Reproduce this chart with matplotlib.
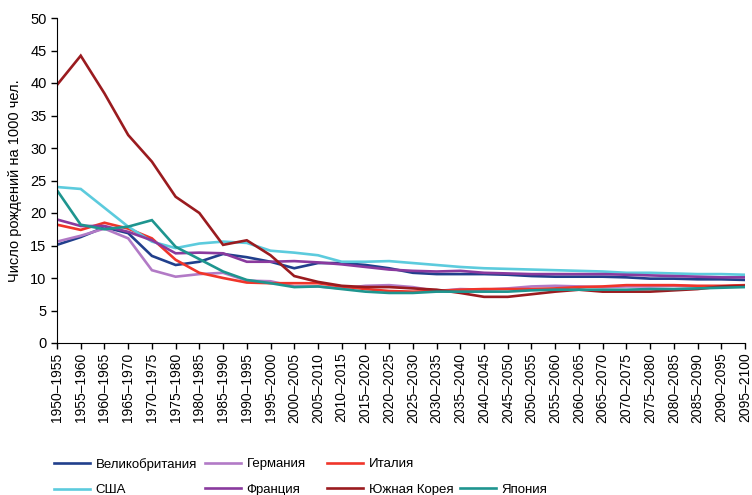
import numpy as np
import matplotlib
matplotlib.use('Agg')
import matplotlib.pyplot as plt
from matplotlib.lines import Line2D

plt.rcParams['font.family'] = ['Liberation Sans', 'DejaVu Sans']

periods = ['%d\u2013%d' % (y, y + 5) for y in range(1950, 2100, 5)]

uk = [15.1, 16.3, 17.8, 16.9, 13.4, 12.0, 12.5, 13.7, 13.2, 12.5,
      11.5, 12.3, 12.3, 12.0, 11.5, 10.8, 10.6, 10.6, 10.6, 10.5,
      10.3, 10.2, 10.2, 10.2, 10.1, 9.9, 9.9, 9.8, 9.8, 9.7]
germany = [15.6, 16.5, 17.6, 16.1, 11.2, 10.2, 10.6, 10.8, 9.6, 9.5,
           8.7, 8.7, 8.4, 8.8, 8.9, 8.6, 8.0, 8.3, 8.2, 8.4,
           8.7, 8.8, 8.7, 8.6, 8.7, 8.7, 8.8, 8.7, 8.7, 8.8]
italy = [18.2, 17.4, 18.5, 17.6, 16.1, 12.8, 10.8, 10.0, 9.3, 9.2,
         9.2, 9.2, 8.7, 8.3, 8.0, 7.9, 8.0, 8.2, 8.3, 8.3,
         8.3, 8.4, 8.6, 8.7, 8.9, 8.9, 8.9, 8.8, 8.8, 8.9]
usa = [24.0, 23.7, 20.8, 17.9, 15.6, 14.6, 15.3, 15.6, 15.4, 14.2,
       13.9, 13.5, 12.5, 12.5, 12.6, 12.3, 12.0, 11.7, 11.5, 11.4,
       11.3, 11.2, 11.1, 11.0, 10.8, 10.8, 10.7, 10.6, 10.6, 10.5]
france = [19.0, 18.0, 18.0, 17.1, 15.8, 13.8, 13.9, 13.8, 12.5, 12.5,
          12.6, 12.4, 12.1, 11.7, 11.3, 11.1, 11.0, 11.1, 10.8, 10.7,
          10.6, 10.6, 10.6, 10.6, 10.5, 10.4, 10.3, 10.2, 10.1, 10.1]
korea = [39.7, 44.2, 38.4, 32.0, 27.9, 22.5, 20.0, 15.1, 15.8, 13.5,
         10.3, 9.4, 8.8, 8.6, 8.6, 8.4, 8.2, 7.7, 7.1, 7.1,
         7.5, 7.9, 8.2, 7.9, 7.9, 7.9, 8.1, 8.3, 8.7, 8.8]
japan = [23.5, 18.2, 17.5, 17.9, 18.9, 14.8, 12.9, 11.0, 9.7, 9.2,
         8.6, 8.7, 8.3, 7.9, 7.7, 7.7, 7.9, 7.9, 7.9, 7.9,
         8.1, 8.2, 8.2, 8.2, 8.2, 8.3, 8.3, 8.4, 8.5, 8.6]

series = [
    ('Великобритания', uk, '#213f8c'),
    ('Германия', germany, '#b27ac6'),
    ('Италия', italy, '#f0352a'),
    ('США', usa, '#5ccbdd'),
    ('Франция', france, '#8a3a9e'),
    ('Южная Корея', korea, '#9a1b1f'),
    ('Япония', japan, '#1e958f'),
]

W, H = 752, 495
fig = plt.figure(figsize=(W / 100, H / 100), dpi=100)
ax = fig.add_axes([57 / W, 1 - 343 / H, 688 / W, 325 / H])

x = np.arange(len(periods))
lines = {}
for name, vals, col in series:
    lines[name], = ax.plot(x, vals, color=col, lw=1.9, solid_joinstyle='miter')

ax.set_xlim(0, len(periods) - 1)
ax.set_ylim(0, 50)
ax.set_yticks(range(0, 51, 5))
ax.set_xticks(x)
ax.set_xticklabels(periods, rotation=90, fontsize=10)
ax.tick_params(axis='y', labelsize=10.5, length=4, width=1)
ax.tick_params(axis='x', length=4, width=1, pad=3)
ax.spines['top'].set_visible(False)
ax.spines['right'].set_visible(False)
ax.set_ylabel('Число рождений на 1000 чел.', fontsize=10.5, labelpad=6)

# legend: one column at a time, so the columns sit where the reference has them
blank = Line2D([], [], color='none')
columns = [
    (54, ['Великобритания', 'США']),
    (205, ['Германия', 'Франция']),
    (327, ['Италия', 'Южная Корея']),
    (460, [None, 'Япония']),
]
for px, names in columns:
    hs = [lines[n] if n else blank for n in names]
    ls = [n if n else '' for n in names]
    fig.legend(hs, ls, loc='upper left', bbox_to_anchor=(px / W, 1 - 458 / H),
               frameon=False, handlelength=2.7, handletextpad=0.45,
               labelspacing=1.0, borderpad=0, borderaxespad=0, fontsize=9.5)

fig.savefig('out.png', dpi=100)
